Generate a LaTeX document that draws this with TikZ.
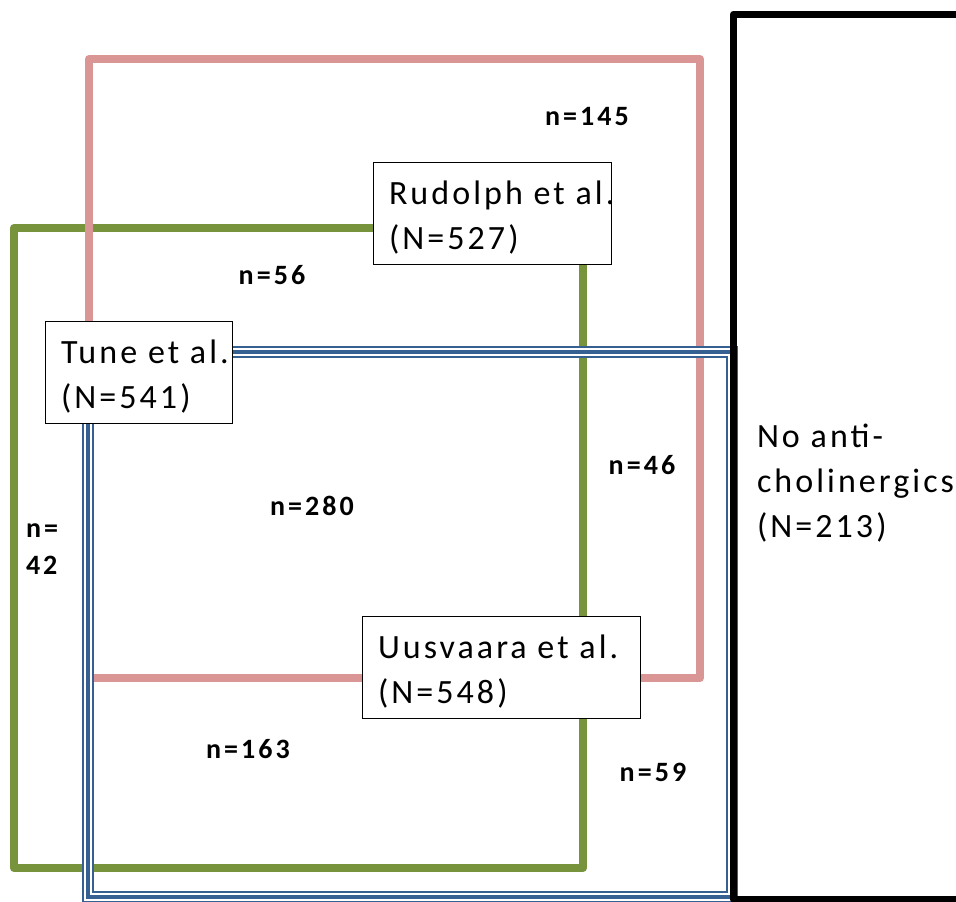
\documentclass[tikz,border=0pt]{standalone}
\usepackage{fontspec}
\setmainfont{Carlito}
\newfontfamily\boxfont[LetterSpace=9]{Carlito}
\newfontfamily\numfont[LetterSpace=11]{Carlito}
\definecolor{pinkc}{HTML}{D99694}
\definecolor{greenc}{HTML}{77933C}
\definecolor{bluec}{HTML}{376092}
\begin{document}
\begin{tikzpicture}[x=1pt,y=-1pt,
  every node/.style={inner sep=0pt, outer sep=0pt},
  pinkline/.style={draw=pinkc, line width=8pt, line join=round},
  greenline/.style={draw=greenc, line width=8pt, line join=round},
  blackline/.style={draw=black, line width=7pt, line join=round},
  tripleline/.style={draw=bluec, line width=4.5pt,
     preaction={draw=bluec, line width=11.5pt},
     preaction={draw=white, line width=8pt}},
  studybox/.style={draw=black, line width=1pt, fill=white, anchor=north west},
  boxtext/.style={anchor=west, align=left, font=\boxfont\fontsize{34}{45}\selectfont},
  count/.style={font=\numfont\bfseries\fontsize{28}{37}\selectfont, align=left}
]
\useasboundingbox (0,0) rectangle (956,902);
% outer sets
\draw[greenline] (14,228) rectangle (583,868);
\draw[pinkline] (89,59) rectangle (700,678);
\draw[tripleline] (88,352) rectangle (732,897);
\draw[blackline] (970,14) -- (733.5,14) -- (733.5,899) -- (970,899);
% study boxes
\node[studybox, minimum width=238pt, minimum height=102pt] (rud) at (373,162) {};
\node[boxtext] (rudt) at ([xshift=16pt,yshift=-4.5pt]rud.west) {Rudolph et al.\\(N=527)};
\node[studybox, minimum width=187pt, minimum height=102pt] (tune) at (45,321) {};
\node[boxtext] (tunet) at ([xshift=16pt,yshift=-4.5pt]tune.west) {Tune et al.\\(N=541)};
\node[studybox, minimum width=278pt, minimum height=102pt] (uus) at (362,616) {};
\node[boxtext] (uust) at ([xshift=16pt,yshift=-4.5pt]uus.west) {Uusvaara et al.\\(N=548)};
\node[boxtext] (none) at (757,483) {No anti-\\cholinergics\\(N=213)};
% counts
\node[count] (c145) at (587,117) {n=145};
\node[count] (c56) at (272,275) {n=56};
\node[count] (c46) at (642,465) {n=46};
\node[count] (c280) at (312,506) {n=280};
\node[count, anchor=west] (c42) at (26,549) {n=\\42};
\node[count] (c163) at (248,749) {n=163};
\node[count] (c59) at (653,772) {n=59};
\end{tikzpicture}
\end{document}
